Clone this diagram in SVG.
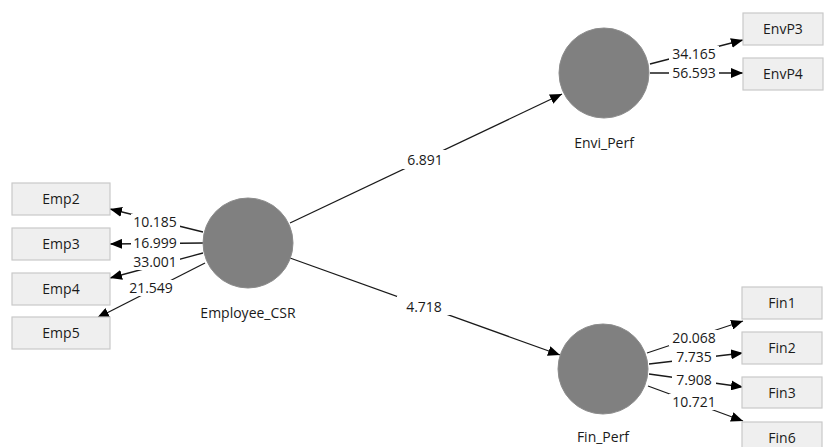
<svg xmlns="http://www.w3.org/2000/svg" width="829" height="447" viewBox="0 0 829 447">
<style>
.box{fill:#efefef;stroke:#c9c9c9;stroke-width:1.2}
.lv{fill:#808080;stroke:#8c8c8c;stroke-width:1}
.t{font-family:"Open Sans","DejaVu Sans",sans-serif;font-size:14px;fill:#1a1a1a;text-anchor:middle}
.c{stroke:#1a1a1a;stroke-width:1.3;fill:none;marker-end:url(#ah)}
.bg{fill:#ffffff}
</style>
<defs>
<marker id="ah" markerUnits="userSpaceOnUse" markerWidth="12" markerHeight="10" viewBox="0 0 12 10" refX="12" refY="5" orient="auto">
<path d="M0,0 L12,5 L0,10 z" fill="#000"/>
</marker>
</defs>
<rect width="829" height="447" fill="#fff"/>
<g id="connectors">
<line class="c" x1="290" y1="223" x2="562" y2="94"/>
<line class="c" x1="290" y1="258" x2="560" y2="355"/>
<line class="c" x1="203" y1="232" x2="110" y2="209"/>
<line class="c" x1="203" y1="243" x2="110" y2="244"/>
<line class="c" x1="203" y1="253" x2="110" y2="278"/>
<line class="c" x1="205" y1="263" x2="97" y2="318"/>
<line class="c" x1="650" y1="64" x2="743" y2="40"/>
<line class="c" x1="650" y1="73" x2="743" y2="73"/>
<line class="c" x1="647" y1="353" x2="743" y2="321"/>
<line class="c" x1="649" y1="364" x2="743" y2="353"/>
<line class="c" x1="649" y1="374" x2="743" y2="387"/>
<line class="c" x1="648" y1="386" x2="743" y2="421"/>
<rect class="bg" x="398" y="150" width="54" height="19"/>
<rect class="bg" x="397" y="296" width="54" height="19"/>
<rect class="bg" x="131" y="214" width="49" height="16"/>
<rect class="bg" x="131" y="235" width="49" height="16"/>
<rect class="bg" x="131" y="254" width="49" height="16"/>
<rect class="bg" x="126" y="280" width="50" height="16"/>
<rect class="bg" x="669" y="46" width="50" height="16"/>
<rect class="bg" x="669" y="65" width="50" height="16"/>
<rect class="bg" x="669" y="330" width="50" height="16"/>
<rect class="bg" x="672" y="349" width="44" height="16"/>
<rect class="bg" x="672" y="372" width="44" height="16"/>
<rect class="bg" x="669" y="394" width="50" height="16"/>
<text class="t" x="425" y="165">6.891</text>
<text class="t" x="424" y="312">4.718</text>
<text class="t" x="155" y="227">10.185</text>
<text class="t" x="155" y="248">16.999</text>
<text class="t" x="155" y="267">33.001</text>
<text class="t" x="151" y="293">21.549</text>
<text class="t" x="694" y="59">34.165</text>
<text class="t" x="694" y="78">56.593</text>
<text class="t" x="694" y="343">20.068</text>
<text class="t" x="694" y="362">7.735</text>
<text class="t" x="694" y="385">7.908</text>
<text class="t" x="694" y="407">10.721</text>
</g>
<g id="Employee_CSR">
<circle class="lv" cx="248" cy="243" r="45"/>
<text class="t" x="248" y="318">Employee_CSR</text>
</g>
<g id="Envi_Perf">
<circle class="lv" cx="604" cy="73" r="45"/>
<text class="t" x="604" y="148">Envi_Perf</text>
</g>
<g id="Fin_Perf">
<circle class="lv" cx="603" cy="369" r="45"/>
<text class="t" x="603" y="442">Fin_Perf</text>
</g>
<g id="Emp2"><rect class="box" x="12" y="183" width="98" height="32"/><text class="t" x="61" y="204">Emp2</text></g>
<g id="Emp3"><rect class="box" x="12" y="228" width="98" height="32"/><text class="t" x="61" y="249">Emp3</text></g>
<g id="Emp4"><rect class="box" x="12" y="273" width="98" height="32"/><text class="t" x="61" y="294">Emp4</text></g>
<g id="Emp5"><rect class="box" x="12" y="317" width="98" height="32"/><text class="t" x="61" y="338">Emp5</text></g>
<g id="EnvP3"><rect class="box" x="743" y="13" width="80" height="32"/><text class="t" x="783" y="34">EnvP3</text></g>
<g id="EnvP4"><rect class="box" x="743" y="58" width="80" height="32"/><text class="t" x="783" y="79">EnvP4</text></g>
<g id="Fin1"><rect class="box" x="742" y="287" width="80" height="32"/><text class="t" x="782" y="308">Fin1</text></g>
<g id="Fin2"><rect class="box" x="742" y="332" width="80" height="32"/><text class="t" x="782" y="353">Fin2</text></g>
<g id="Fin3"><rect class="box" x="742" y="377" width="80" height="31"/><text class="t" x="782" y="398">Fin3</text></g>
<g id="Fin6"><rect class="box" x="742" y="422" width="80" height="32"/><text class="t" x="782" y="443">Fin6</text></g>
</svg>
